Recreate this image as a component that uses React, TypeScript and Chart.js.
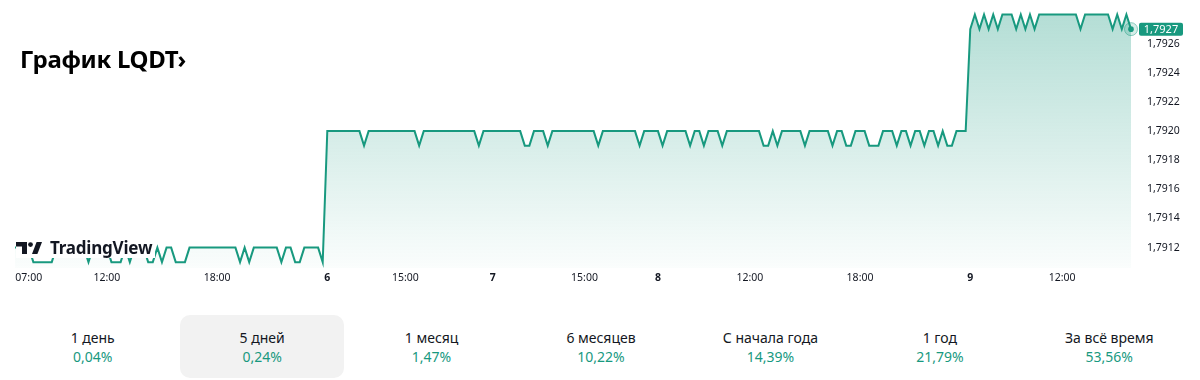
import React, { useEffect, useRef } from "react";
import { Chart, registerables } from "chart.js";

Chart.register(...registerables);

// ---- Data (15-minute steps) ----
// Friday, 07:00–23:45
const day5Values = [
  1.7912, 1.7912, 1.7912, 1.7912, 1.7911, 1.7911, 1.7911, 1.7911, 1.7911, 1.7912,
  1.7912, 1.7912, 1.7912, 1.7912, 1.7912, 1.7912, 1.7911, 1.7912, 1.7912, 1.7912,
  1.7912, 1.7911, 1.7911, 1.7911, 1.7912, 1.7911, 1.7912, 1.7912, 1.7912, 1.7911,
  1.7911, 1.7912, 1.7911, 1.7912, 1.7912, 1.7911, 1.7911, 1.7911, 1.7912, 1.7912,
  1.7912, 1.7912, 1.7912, 1.7912, 1.7912, 1.7912, 1.7912, 1.7912, 1.7912, 1.7911,
  1.7912, 1.7911, 1.7912, 1.7912, 1.7912, 1.7912, 1.7912, 1.7912, 1.7911, 1.7912,
  1.7912, 1.7911, 1.7911, 1.7912, 1.7912, 1.7912, 1.7912, 1.7911,
];
// Day 6
const day6Values = [
  1.792, 1.792, 1.792, 1.792, 1.792, 1.792, 1.792, 1.792, 1.7919, 1.792,
  1.792, 1.792, 1.792, 1.792, 1.792, 1.792, 1.792, 1.792, 1.792, 1.792,
  1.7919, 1.792, 1.792, 1.792, 1.792, 1.792, 1.792, 1.792, 1.792, 1.792,
  1.792, 1.792, 1.792, 1.7919, 1.792, 1.792,
];
// Day 7
const day7Values = [
  1.792, 1.792, 1.792, 1.792, 1.792, 1.792, 1.792, 1.7919, 1.7919, 1.792,
  1.792, 1.792, 1.7919, 1.792, 1.792, 1.792, 1.792, 1.792, 1.792, 1.792,
  1.792, 1.792, 1.792, 1.7919, 1.792, 1.792, 1.792, 1.792, 1.792, 1.792,
  1.792, 1.792, 1.7919, 1.792, 1.792, 1.792,
];
// Day 8
const day8Values = [
  1.792, 1.7919, 1.792, 1.792, 1.792, 1.792, 1.792, 1.7919, 1.792, 1.792,
  1.7919, 1.792, 1.792, 1.792, 1.7919, 1.792, 1.792, 1.792, 1.792, 1.792,
  1.792, 1.792, 1.792, 1.7919, 1.7919, 1.792, 1.7919, 1.792, 1.792, 1.792,
  1.792, 1.792, 1.7919, 1.792, 1.792, 1.792, 1.792, 1.792, 1.7919, 1.792,
  1.792, 1.7919, 1.7919, 1.792, 1.792, 1.792, 1.7919, 1.7919, 1.7919, 1.792,
  1.792, 1.792, 1.7919, 1.792, 1.792, 1.7919, 1.792, 1.792, 1.7919, 1.792,
  1.792, 1.7919, 1.792, 1.7919, 1.7919, 1.792, 1.792, 1.792,
];
// Day 9
const day9Values = [
  1.7927, 1.7928, 1.7927, 1.7928, 1.7927, 1.7928, 1.7927, 1.7928, 1.7928, 1.7928,
  1.7927, 1.7928, 1.7927, 1.7928, 1.7927, 1.7928, 1.7928, 1.7928, 1.7928, 1.7928,
  1.7928, 1.7928, 1.7928, 1.7928, 1.7927, 1.7928, 1.7928, 1.7928, 1.7928, 1.7928,
  1.7928, 1.7927, 1.7928, 1.7927, 1.7928, 1.7927,
];

const xTickLabels = ["07:00", "12:00", "18:00", "6", "15:00", "7", "15:00", "8", "12:00", "18:00", "9", "12:00"];
const xTickIndex = [3, 20, 44, 68, 85, 104, 124, 140, 160, 184, 208, 228];
const yTickValues = [1.7912, 1.7914, 1.7916, 1.7918, 1.792, 1.7922, 1.7924, 1.7926];

const periodLabels = ["1 день", "5 дней", "1 месяц", "6 месяцев", "С начала года", "1 год", "За всё время"];
const periodReturns = ["0,04%", "0,24%", "1,47%", "10,22%", "14,39%", "21,79%", "53,56%"];
const selectedPeriod = 1;

const LINE = "#18997f";
const TEXT = "#131722";
const FONT = '"Noto Sans", sans-serif';

const allValues = [...day5Values, ...day6Values, ...day7Values, ...day8Values, ...day9Values];

const fmt = (v: number) => v.toFixed(4).replace(".", ",");

const lastPointPlugin = {
  id: "lastPoint",
  afterDatasetsDraw(chart: any) {
    const meta = chart.getDatasetMeta(0);
    const pt = meta.data[meta.data.length - 1];
    if (!pt) return;
    const { x, y } = pt;
    const c = chart.ctx as CanvasRenderingContext2D;
    c.save();
    c.beginPath();
    c.arc(x, y, 6.5, 0, Math.PI * 2);
    c.fillStyle = "rgba(24,153,127,0.18)";
    c.fill();
    c.lineWidth = 1;
    c.strokeStyle = "rgba(24,153,127,0.45)";
    c.stroke();
    c.beginPath();
    c.arc(x, y, 2.8, 0, Math.PI * 2);
    c.fillStyle = LINE;
    c.fill();
    // price badge
    const bx = chart.chartArea.right + 8;
    const bw = 44;
    const bh = 13;
    c.fillStyle = LINE;
    c.beginPath();
    (c as any).roundRect(bx, y - bh / 2, bw, bh, 2);
    c.fill();
    c.fillStyle = "#ffffff";
    c.font = `11px ${FONT}`;
    c.textAlign = "center";
    c.textBaseline = "middle";
    c.fillText(fmt(allValues[allValues.length - 1]), bx + bw / 2, y + 0.5);
    c.restore();
  },
};

function TVLogo() {
  return (
    <div
      style={{
        position: "absolute",
        left: 16,
        top: 238,
        height: 20,
        paddingRight: 3,
        background: "#ffffff",
        display: "flex",
        alignItems: "center",
        gap: 8,
      }}
    >
      <svg width="26" height="12" viewBox="0 0 26 12" style={{ display: "block" }}>
        <path d="M0 0 H11 V12 H6 V4.5 H0 Z" fill={TEXT} />
        <circle cx="14.5" cy="2.6" r="2.4" fill={TEXT} />
        <path d="M16 12 L20.6 0 H26 L21.4 12 Z" fill={TEXT} />
      </svg>
      <span style={{ fontFamily: FONT, fontWeight: 700, fontSize: 17, color: TEXT, lineHeight: "20px", letterSpacing: -0.2 }}>
        TradingView
      </span>
    </div>
  );
}

export default function App() {
  const canvasRef = useRef<HTMLCanvasElement | null>(null);

  useEffect(() => {
    const canvas = canvasRef.current;
    if (!canvas) return;
    const points = allValues.map((v, i) => ({ x: i, y: v }));
    const chart = new Chart(canvas, {
      type: "line",
      data: {
        datasets: [
          {
            data: points,
            borderColor: LINE,
            borderWidth: 2,
            pointRadius: 0,
            tension: 0,
            fill: "start",
            backgroundColor: (ctx: any) => {
              const area = ctx.chart.chartArea;
              if (!area) return "rgba(24,153,127,0.15)";
              const g = ctx.chart.ctx.createLinearGradient(0, area.top, 0, area.bottom);
              g.addColorStop(0, "rgba(24,153,127,0.34)");
              g.addColorStop(1, "rgba(24,153,127,0.02)");
              return g;
            },
          },
        ],
      },
      options: {
        animation: false,
        responsive: false,
        maintainAspectRatio: false,
        layout: { autoPadding: false, padding: { left: 15, right: 0, top: 0, bottom: 0 } },
        plugins: { legend: { display: false }, tooltip: { enabled: false } },
        scales: {
          x: {
            type: "linear",
            min: 0,
            max: allValues.length - 1,
            grid: { display: false, drawTicks: false },
            border: { display: false },
            afterBuildTicks: (s: any) => {
              s.ticks = xTickIndex.map((value) => ({ value }));
            },
            afterFit: (s: any) => {
              s.height = 24;
              s.paddingLeft = 0;
              s.paddingRight = 0;
            },
            ticks: {
              autoSkip: false,
              maxRotation: 0,
              padding: 4,
              color: TEXT,
              font: (ctx: any) => {
                const i = xTickIndex.indexOf(ctx.tick?.value);
                const lbl = i >= 0 ? xTickLabels[i] : "";
                return { family: FONT, size: 10.5, weight: /^\d$/.test(lbl) ? "bold" : "normal" };
              },
              callback: (v: any) => {
                const i = xTickIndex.indexOf(v);
                return i >= 0 ? xTickLabels[i] : "";
              },
            },
          },
          y: {
            position: "right",
            min: 1.79106,
            max: 1.7929,
            grid: { display: false, drawTicks: false },
            border: { display: false },
            afterBuildTicks: (s: any) => {
              s.ticks = yTickValues.map((value) => ({ value }));
            },
            afterFit: (s: any) => {
              s.width = 69;
              s.paddingTop = 0;
              s.paddingBottom = 0;
            },
            ticks: {
              padding: 16,
              color: TEXT,
              font: { family: FONT, size: 10.5 },
              callback: (v: any) => fmt(Number(v)),
            },
          },
        },
      },
      plugins: [lastPointPlugin],
    } as any);
    return () => chart.destroy();
  }, []);

  return (
    <div style={{ position: "absolute", left: 0, top: 0, width: 1200, height: 380, background: "#fff", fontFamily: FONT }}>
      <div style={{ position: "absolute", left: 0, top: 0, width: 1200, height: 292 }}>
        <canvas ref={canvasRef} width={1200} height={292} style={{ display: "block" }} />
      </div>
      <div
        style={{
          position: "absolute",
          left: 20,
          top: 44,
          fontSize: 24,
          lineHeight: "30px",
          fontWeight: 700,
          color: "#000",
          letterSpacing: -0.3,
        }}
      >
        График LQDT›
      </div>
      <TVLogo />
      <div style={{ position: "absolute", left: 8, top: 315, width: 1186, display: "grid", gridTemplateColumns: "repeat(7, 1fr)" }}>
        {periodLabels.map((p, i) => (
          <div
            key={p}
            style={{
              margin: "0 3px",
              height: 63,
              borderRadius: 10,
              background: i === selectedPeriod ? "#f2f2f2" : "transparent",
              textAlign: "center",
              paddingTop: 14,
              boxSizing: "border-box",
            }}
          >
            <div style={{ fontSize: 14, lineHeight: "18px", color: TEXT }}>{p}</div>
            <div style={{ fontSize: 14, lineHeight: "18px", marginTop: 1, color: LINE }}>{periodReturns[i]}</div>
          </div>
        ))}
      </div>
    </div>
  );
}
